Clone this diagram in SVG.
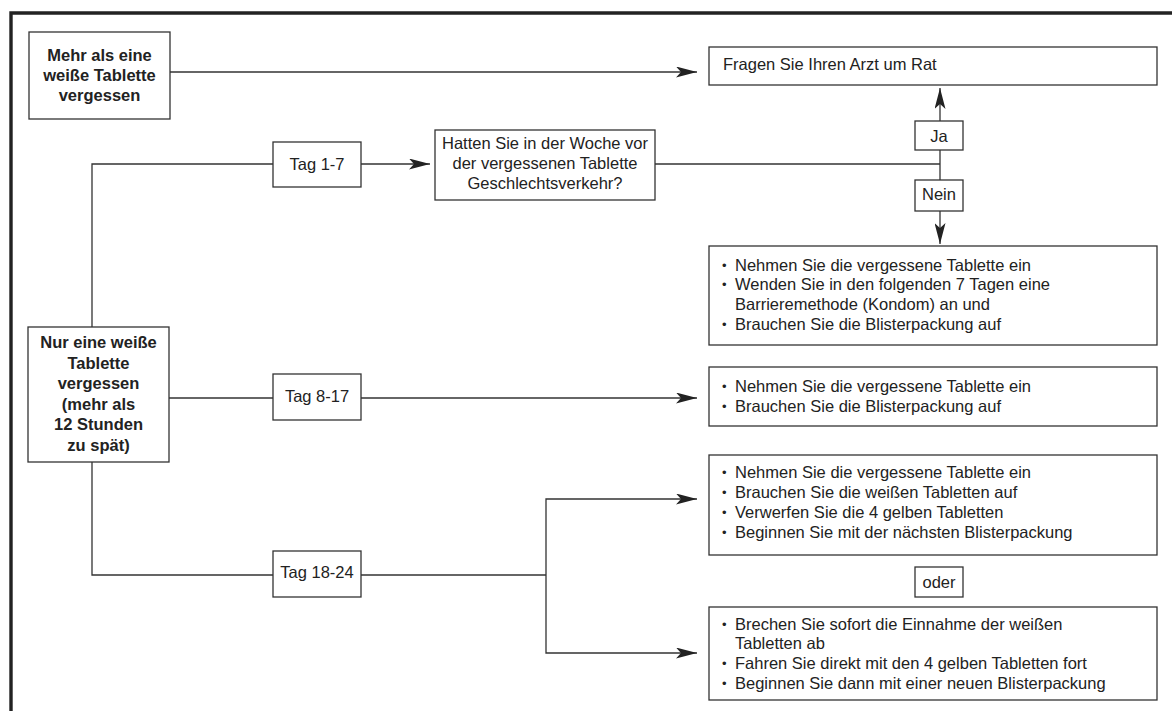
<svg xmlns="http://www.w3.org/2000/svg" width="1172" height="711" viewBox="0 0 1172 711">
<style>
.frame{fill:none;stroke:#222;stroke-width:3.4}
.box{fill:#fff;stroke:#333;stroke-width:1.3}
.ln{fill:none;stroke:#333;stroke-width:1.3}
text{font-family:"Liberation Sans",Arial,sans-serif;font-size:16.5px;fill:#222}
.b{font-weight:bold}
.c{text-anchor:middle}
.bu{font-size:13px}
</style>
<defs>
<marker id="ah" viewBox="0 0 21 11" refX="21" refY="5.5" markerWidth="21" markerHeight="11" markerUnits="userSpaceOnUse" orient="auto">
<path d="M0,0 L21,5.5 L0,11 L5,5.5 Z" fill="#222"/>
</marker>
</defs>
<rect width="1172" height="711" fill="#fff"/>
<path class="frame" d="M11,711 V13 H1172"/>
<g id="connectors">
<path class="ln" d="M170,72 H697" marker-end="url(#ah)"/>
<path class="ln" d="M92,327 V164 H273"/>
<path class="ln" d="M361,164 H430" marker-end="url(#ah)"/>
<path class="ln" d="M655,164 H940"/>
<path class="ln" d="M940,164 V88" marker-end="url(#ah)"/>
<path class="ln" d="M940,164 V244" marker-end="url(#ah)"/>
<path class="ln" d="M169,398 H273"/>
<path class="ln" d="M361,398 H697" marker-end="url(#ah)"/>
<path class="ln" d="M92,462 V575 H273"/>
<path class="ln" d="M361,575 H546"/>
<path class="ln" d="M546,575 V499 H697" marker-end="url(#ah)"/>
<path class="ln" d="M546,575 V653 H697" marker-end="url(#ah)"/>
</g>
<g id="n-mehr">
<rect class="box" x="29" y="32" width="141" height="87"/>
<text class="b c" x="99.5" y="61">Mehr als eine</text>
<text class="b c" x="99.5" y="81">weiße Tablette</text>
<text class="b c" x="99.5" y="101">vergessen</text>
</g>
<g id="n-arzt">
<rect class="box" x="709" y="47" width="448" height="38"/>
<text x="723" y="70">Fragen Sie Ihren Arzt um Rat</text>
</g>
<g id="n-tag17">
<rect class="box" x="273" y="142" width="88" height="45"/>
<text class="c" x="317" y="170">Tag 1-7</text>
</g>
<g id="n-frage">
<rect class="box" x="435" y="130" width="220" height="70"/>
<text class="c" x="545" y="149">Hatten Sie in der Woche vor</text>
<text class="c" x="545" y="169">der vergessenen Tablette</text>
<text class="c" x="545" y="189">Geschlechtsverkehr?</text>
</g>
<g id="n-ja">
<rect class="box" x="915" y="121" width="48" height="29"/>
<text class="c" x="939" y="142">Ja</text>
</g>
<g id="n-nein">
<rect class="box" x="915" y="180" width="48" height="31"/>
<text class="c" x="939" y="200">Nein</text>
</g>
<g id="n-massnahme1">
<rect class="box" x="709" y="246" width="448" height="99"/>
<text class="bu" x="722" y="270">•</text><text x="735" y="271">Nehmen Sie die vergessene Tablette ein</text>
<text class="bu" x="722" y="289">•</text><text x="735" y="290">Wenden Sie in den folgenden 7 Tagen eine</text>
<text x="735" y="310">Barrieremethode (Kondom) an und</text>
<text class="bu" x="722" y="329">•</text><text x="735" y="330">Brauchen Sie die Blisterpackung auf</text>
</g>
<g id="n-nur">
<rect class="box" x="28" y="327" width="141" height="135"/>
<text class="b c" x="98.5" y="348">Nur eine weiße</text>
<text class="b c" x="98.5" y="368.5">Tablette</text>
<text class="b c" x="98.5" y="389">vergessen</text>
<text class="b c" x="98.5" y="409.5">(mehr als</text>
<text class="b c" x="98.5" y="430">12 Stunden</text>
<text class="b c" x="98.5" y="450.5">zu spät)</text>
</g>
<g id="n-tag817">
<rect class="box" x="273" y="374" width="88" height="46"/>
<text class="c" x="317" y="402">Tag 8-17</text>
</g>
<g id="n-massnahme2">
<rect class="box" x="709" y="367" width="448" height="59"/>
<text class="bu" x="722" y="391">•</text><text x="735" y="392">Nehmen Sie die vergessene Tablette ein</text>
<text class="bu" x="722" y="411">•</text><text x="735" y="412">Brauchen Sie die Blisterpackung auf</text>
</g>
<g id="n-tag1824">
<rect class="box" x="273" y="551" width="88" height="46"/>
<text class="c" x="317" y="578">Tag 18-24</text>
</g>
<g id="n-massnahme3">
<rect class="box" x="709" y="455" width="448" height="100"/>
<text class="bu" x="722" y="477">•</text><text x="735" y="478">Nehmen Sie die vergessene Tablette ein</text>
<text class="bu" x="722" y="497">•</text><text x="735" y="498">Brauchen Sie die weißen Tabletten auf</text>
<text class="bu" x="722" y="517">•</text><text x="735" y="518">Verwerfen Sie die 4 gelben Tabletten</text>
<text class="bu" x="722" y="537">•</text><text x="735" y="538">Beginnen Sie mit der nächsten Blisterpackung</text>
</g>
<g id="n-oder">
<rect class="box" x="915" y="567" width="48" height="30"/>
<text class="c" x="939" y="588">oder</text>
</g>
<g id="n-massnahme4">
<rect class="box" x="709" y="607" width="448" height="93"/>
<text class="bu" x="722" y="629">•</text><text x="735" y="630">Brechen Sie sofort die Einnahme der weißen</text>
<text x="735" y="649">Tabletten ab</text>
<text class="bu" x="722" y="668">•</text><text x="735" y="669">Fahren Sie direkt mit den 4 gelben Tabletten fort</text>
<text class="bu" x="722" y="688">•</text><text x="735" y="689">Beginnen Sie dann mit einer neuen Blisterpackung</text>
</g>
</svg>
